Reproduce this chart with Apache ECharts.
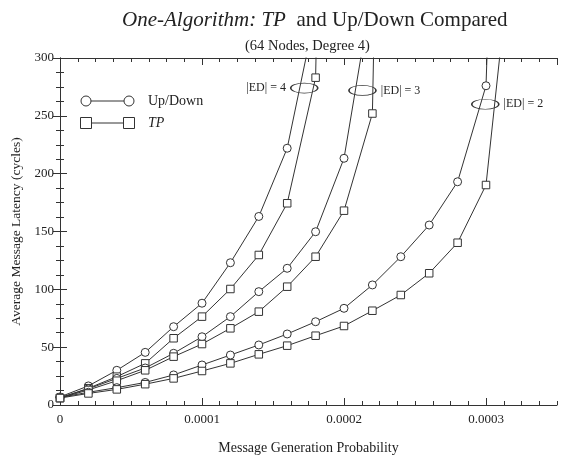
<!DOCTYPE html>
<html>
<head>
<meta charset="utf-8">
<script src="https://cdn.jsdelivr.net/npm/echarts@6/dist/echarts.min.js"></script>
<style>html,body{margin:0;padding:0;background:#fff;}#c{width:564px;height:457px;}</style>
</head>
<body>
<div id="c"></div>
<script>
// ---- data ----
const probs = [0, 0.00002, 0.00004, 0.00006, 0.00008, 0.0001, 0.00012, 0.00014, 0.00016,
               0.00018, 0.0002, 0.00022, 0.00024, 0.00026, 0.00028, 0.0003, 0.00032];
const ed4UpDown = [7, 16.5, 30, 45.5, 67.7, 88, 123, 163, 222, 340];
const ed4TP     = [6, 14.5, 24.5, 36, 57.7, 76.4, 100.3, 129.7, 174.4, 283, 1500];
const ed3UpDown = [6.5, 14, 23, 32, 44.7, 59, 76.4, 98, 118.2, 149.8, 213.3, 360];
const ed3TP     = [6, 13, 21, 30, 41.8, 52.7, 66.3, 80.7, 102.3, 128.2, 168, 252, 1500];
const ed2UpDown = [6.5, 11, 15, 19.5, 26, 34.6, 43.2, 51.9, 61.4, 72, 83.6, 103.8, 128.2, 155.6, 193, 276, 1000];
const ed2TP     = [6, 10, 13.5, 18, 23, 29.4, 36, 43.8, 51.3, 59.9, 68.3, 81.5, 95.1, 113.9, 140.3, 190.2, 420];
const xTickLabels = ['0', '0.0001', '0.0002', '0.0003'];
const yTickLabels = ['0', '50', '100', '150', '200', '250', '300'];
const edLabels = ['|ED| = 4', '|ED| = 3', '|ED| = 2'];
const edNotePos = [[0.000172, 274], [0.000213, 272], [0.0002995, 260]];
const legendNames = ['Up/Down', 'TP'];

const FONT = 'Liberation Serif';
const INK = '#333';

function pairs(vals) { return vals.map((v, i) => [probs[i], v]); }

function note(i, pos) {
  return {
    symbol: 'circle', symbolSize: [27, 10], silent: true,
    itemStyle: { color: 'rgba(0,0,0,0)', borderColor: INK, borderWidth: 1 },
    label: { show: true, position: pos, distance: 4, formatter: edLabels[i],
             color: '#222', fontFamily: FONT, fontSize: 12 },
    data: [{ coord: edNotePos[i] }]
  };
}

function mkSeries(name, vals, sym, mp) {
  const s = {
    name: name, type: 'line', data: pairs(vals), xAxisIndex: 0, yAxisIndex: 0,
    symbol: sym, symbolSize: sym === 'rect' ? 7.5 : 8, clip: true, animation: false,
    lineStyle: { color: INK, width: 1 },
    itemStyle: { color: '#fff', borderColor: INK, borderWidth: 1 },
    z: 3
  };
  if (mp) s.markPoint = mp;
  return s;
}

const series = [
  mkSeries('Up/Down |ED|=4', ed4UpDown, 'circle', note(0, 'left')),
  mkSeries('TP |ED|=4', ed4TP, 'rect'),
  mkSeries('Up/Down |ED|=3', ed3UpDown, 'circle', note(1, 'right')),
  mkSeries('TP |ED|=3', ed3TP, 'rect'),
  mkSeries('Up/Down |ED|=2', ed2UpDown, 'circle', note(2, 'right')),
  mkSeries('TP |ED|=2', ed2TP, 'rect')
];

const axisLine = { show: true, lineStyle: { color: INK, width: 1 } };
const labelStyle = { color: '#222', fontFamily: FONT, fontSize: 13 };

function xAx(pos, interval, len, labels) {
  return {
    type: 'value', position: pos, min: 0, max: 0.00035, interval: interval,
    axisLine: labels !== null ? axisLine : { show: false },
    axisTick: { show: true, inside: true, length: len, lineStyle: { color: INK } },
    axisLabel: labels ? Object.assign({ show: true, margin: 8, showMaxLabel: false,
      formatter: v => { const k = Math.round(v / 0.0001); return xTickLabels[k] || ''; } }, labelStyle)
      : { show: false },
    splitLine: { show: false }
  };
}

const chart = echarts.init(document.getElementById('c'), null, { renderer: 'canvas' });
const option = {
  backgroundColor: '#fff',
  animation: false,
  title: [
    { text: '{i|One-Algorithm: TP}  and Up/Down Compared', left: 117, top: 5,
      textStyle: { fontFamily: FONT, fontSize: 21, fontWeight: 'normal', color: '#222',
        rich: { i: { fontFamily: FONT, fontSize: 21, fontStyle: 'italic', color: '#222' } } } },
    { text: '(64 Nodes, Degree 4)', left: 240, top: 34,
      textStyle: { fontFamily: FONT, fontSize: 14.5, fontWeight: 'normal', color: '#222' } }
  ],
  grid: { left: 60, right: 7, top: 58, bottom: 52, containLabel: false, outerBoundsMode: 'none' },
  xAxis: [
    Object.assign(xAx('bottom', 0.0001, 7, true), {
      name: 'Message Generation Probability', nameLocation: 'middle', nameGap: 36,
      nameTextStyle: { fontFamily: FONT, fontSize: 14, color: '#222' } }),
    xAx('bottom', 0.0000125, 4, null),
    xAx('top', 0.0001, 7, false),
    xAx('top', 0.0000125, 4, null)
  ],
  yAxis: [
    { type: 'value', position: 'left', min: 0, max: 300, interval: 50,
      axisLine: axisLine,
      axisTick: { show: true, inside: true, length: 7, lineStyle: { color: INK } },
      minorTick: { show: true, splitNumber: 4, length: 4, lineStyle: { color: INK } },
      axisLabel: Object.assign({ margin: 6, formatter: v => yTickLabels[Math.round(v / 50)] }, labelStyle),
      splitLine: { show: false },
      name: 'Average Message Latency (cycles)', nameLocation: 'middle', nameGap: 37,
      nameTextStyle: { fontFamily: FONT, fontSize: 13.5, color: '#222' } },
    { type: 'value', position: 'right', min: 0, max: 300, interval: 50,
      axisLine: axisLine,
      axisTick: { show: true, inside: true, length: 7, lineStyle: { color: INK } },
      minorTick: { show: true, splitNumber: 4, length: 4, lineStyle: { color: INK } },
      axisLabel: { show: false }, splitLine: { show: false } }
  ],
  graphic: [
    { type: 'group', left: 80, top: 94, children: [
      { type: 'line', shape: { x1: 6, y1: 6, x2: 49, y2: 6 }, style: { stroke: INK, lineWidth: 1 } },
      { type: 'circle', shape: { cx: 6, cy: 6, r: 5 }, style: { fill: '#fff', stroke: INK, lineWidth: 1 } },
      { type: 'circle', shape: { cx: 49, cy: 6, r: 5 }, style: { fill: '#fff', stroke: INK, lineWidth: 1 } },
      { type: 'text', x: 68, y: 6, style: { text: legendNames[0], fill: '#222', font: '14px "Liberation Serif"', textVerticalAlign: 'middle' } },
      { type: 'line', shape: { x1: 6, y1: 28, x2: 49, y2: 28 }, style: { stroke: INK, lineWidth: 1 } },
      { type: 'rect', shape: { x: 0.5, y: 22.5, width: 11, height: 11 }, style: { fill: '#fff', stroke: INK, lineWidth: 1 } },
      { type: 'rect', shape: { x: 43.5, y: 22.5, width: 11, height: 11 }, style: { fill: '#fff', stroke: INK, lineWidth: 1 } },
      { type: 'text', x: 68, y: 28, style: { text: legendNames[1], fill: '#222', font: 'italic 14px "Liberation Serif"', textVerticalAlign: 'middle' } }
    ]}
  ],
  series: series
};
chart.setOption(option);
</script>
</body>
</html>
